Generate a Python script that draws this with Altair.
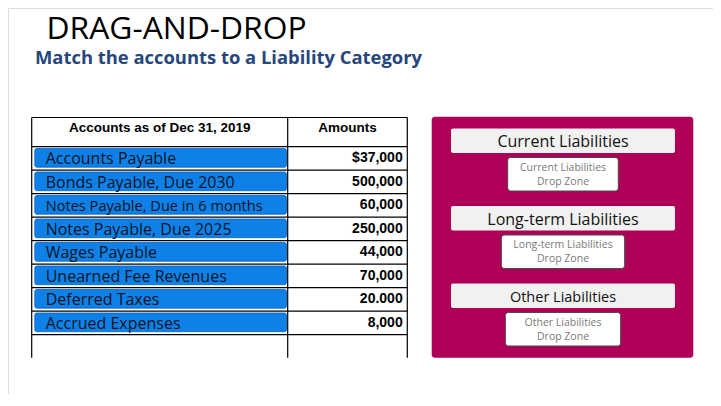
import altair as alt
import pandas as pd

# ---------------- content ----------------
title_text = "DRAG-AND-DROP"
subtitle_text = "Match the accounts to a Liability Category"
col_headers = ["Accounts as of Dec 31, 2019", "Amounts"]
accounts = [
    "Accounts Payable",
    "Bonds Payable, Due 2030",
    "Notes Payable, Due in 6 months",
    "Notes Payable, Due 2025",
    "Wages Payable",
    "Unearned Fee Revenues",
    "Deferred Taxes",
    "Accrued Expenses",
]
amounts = ["$37,000", "500,000", "60,000", "250,000", "44,000", "70,000", "20.000", "8,000"]
categories = ["Current Liabilities", "Long-term Liabilities", "Other Liabilities"]
drop_suffix = "Drop Zone"

# ---------------- layout (pixel space of the page) ----------------
W, H = 705, 386          # chart size; page offset is 8px
X0, Y0 = 8, 8
tbl_left, tbl_mid, tbl_right = 31.7, 287.7, 407.3
tbl_top, hdr_bot, row_h, tbl_bottom = 117.5, 146.7, 23.5, 357.7
acc_font = [16, 16, 14.6, 16, 16, 16, 16, 16]

panel = dict(x=431.7, x2=693.3, y=116.7, y2=357.7)
cat_x, cat_x2 = 451, 675
cat_top0, cat_step, cat_h = 128.5, 77.5, 24.5
cat_font = [16, 16, 14.5]
drop_w = [110.6, 123.3, 115.3]
drop_off, drop_h = 29, 33.5

xs = alt.Scale(domain=[X0, X0 + W], nice=False, zero=False)
ys = alt.Scale(domain=[Y0, Y0 + H], nice=False, zero=False, reverse=True)


def X(f):
    return alt.X(f, type="quantitative", scale=xs, axis=None)


def Y(f):
    return alt.Y(f, type="quantitative", scale=ys, axis=None)


# ---------------- data frames ----------------
n = len(accounts)
rows = pd.DataFrame({
    "account": accounts,
    "amount": amounts,
    "fs": acc_font,
    "top": [hdr_bot + i * row_h for i in range(n)],
})
rows["bx"] = tbl_left + 3.1
rows["bx2"] = tbl_mid - 1.2
rows["by"] = rows["top"] + 1.8
rows["by2"] = rows["top"] + row_h - 3.0
rows["tx"] = 45.7
rows["ax"] = 402.7
rows["ty"] = rows["top"] + 17.6
rows["aty"] = rows["top"] + 15.6

hlines = pd.DataFrame({"y": [tbl_top] + [hdr_bot + i * row_h for i in range(n + 1)]})
hlines["x"] = tbl_left
hlines["x2"] = tbl_right
vlines = pd.DataFrame({"x": [tbl_left, tbl_mid, tbl_right]})
vlines["y"] = tbl_top
vlines["y2"] = tbl_bottom

hdr = pd.DataFrame({
    "t": col_headers,
    "x": [(tbl_left + tbl_mid) / 2, (tbl_mid + tbl_right) / 2],
    "y": [132.2, 132.2],
})

cats = pd.DataFrame({"cat": categories, "fs": cat_font, "dw": drop_w})
cats["top"] = [cat_top0 + i * cat_step for i in range(len(categories))]
cats["x"] = cat_x
cats["x2"] = cat_x2
cats["y2"] = cats["top"] + cat_h
cats["cx"] = (cat_x + cat_x2) / 2
cats["ty"] = cats["top"] + 18.6
cats["dx"] = cats["cx"] - cats["dw"] / 2
cats["dx2"] = cats["cx"] + cats["dw"] / 2
cats["dy"] = cats["top"] + drop_off
cats["dy2"] = cats["dy"] + drop_h
cats["l1"] = cats["dy"] + 13.2
cats["l2"] = cats["dy"] + 27.2
cats["suffix"] = drop_suffix

titles = pd.DataFrame({
    "t": [title_text, subtitle_text],
    "x": [46.5, 35.0],
    "y": [38.5, 64.0],
})

panel_df = pd.DataFrame([panel])

# ---------------- layers ----------------
title_l = alt.Chart(titles.iloc[[0]]).mark_text(
    align="left", baseline="alphabetic", font="Open Sans", fontSize=31.8, color="#000000"
).encode(x=X("x"), y=Y("y"), text="t:N")

sub_l = alt.Chart(titles.iloc[[1]]).mark_text(
    align="left", baseline="alphabetic", font="Open Sans", fontSize=18.4, fontWeight="bold",
    color="#26467C"
).encode(x=X("x"), y=Y("y"), text="t:N")

hline_l = alt.Chart(hlines).mark_rule(color="#000000", strokeWidth=1.2).encode(
    x=X("x"), x2="x2", y=Y("y"))
vline_l = alt.Chart(vlines).mark_rule(color="#000000", strokeWidth=1.2).encode(
    x=X("x"), y=Y("y"), y2="y2")

hdr_l = alt.Chart(hdr).mark_text(
    align="center", baseline="alphabetic", font="Liberation Sans", fontSize=13.5,
    fontWeight="bold", color="#000000"
).encode(x=X("x"), y=Y("y"), text="t:N")

box_l = alt.Chart(rows).mark_rect(
    color="#0F80E8", stroke="#0A62B8", strokeWidth=0.8, cornerRadius=2
).encode(x=X("bx"), x2="bx2", y=Y("by"), y2="by2")

acc_l = alt.Chart(rows).mark_text(
    align="left", baseline="alphabetic", font="Open Sans", color="#0B1622"
).encode(x=X("tx"), y=Y("ty"), text="account:N",
         size=alt.Size("fs:Q", scale=None, legend=None))

amt_l = alt.Chart(rows).mark_text(
    align="right", baseline="alphabetic", font="Liberation Sans", fontSize=14,
    fontWeight="bold", color="#000000"
).encode(x=X("ax"), y=Y("aty"), text="amount:N")

panel_l = alt.Chart(panel_df).mark_rect(color="#AE0057", cornerRadius=3).encode(
    x=X("x"), x2="x2", y=Y("y"), y2="y2")

cat_box_l = alt.Chart(cats).mark_rect(color="#F1F1F1", cornerRadius=2).encode(
    x=X("x"), x2="x2", y=Y("top"), y2="y2")

cat_txt_l = alt.Chart(cats).mark_text(
    align="center", baseline="alphabetic", font="Open Sans", color="#111111"
).encode(x=X("cx"), y=Y("ty"), text="cat:N",
         size=alt.Size("fs:Q", scale=None, legend=None))

drop_l = alt.Chart(cats).mark_rect(
    fill="#FFFFFF", stroke="#4A4A4A", strokeWidth=1, cornerRadius=3
).encode(x=X("dx"), x2="dx2", y=Y("dy"), y2="dy2")

drop_t1 = alt.Chart(cats).mark_text(
    align="center", baseline="alphabetic", font="Open Sans", fontSize=10.5, color="#7A7A7A"
).encode(x=X("cx"), y=Y("l1"), text="cat:N")

drop_t2 = alt.Chart(cats).mark_text(
    align="center", baseline="alphabetic", font="Open Sans", fontSize=10.5, color="#7A7A7A"
).encode(x=X("cx"), y=Y("l2"), text="suffix:N")

chart = alt.layer(
    title_l, sub_l, box_l, hline_l, vline_l, hdr_l, acc_l, amt_l,
    panel_l, cat_box_l, cat_txt_l, drop_l, drop_t1, drop_t2
).properties(
    width=W, height=H, padding=0, autosize=alt.AutoSizeParams(type="none")
).configure_view(stroke=None).configure(background="#FFFFFF")

chart.save("out.html", embed_options={"renderer": "svg", "actions": False})
